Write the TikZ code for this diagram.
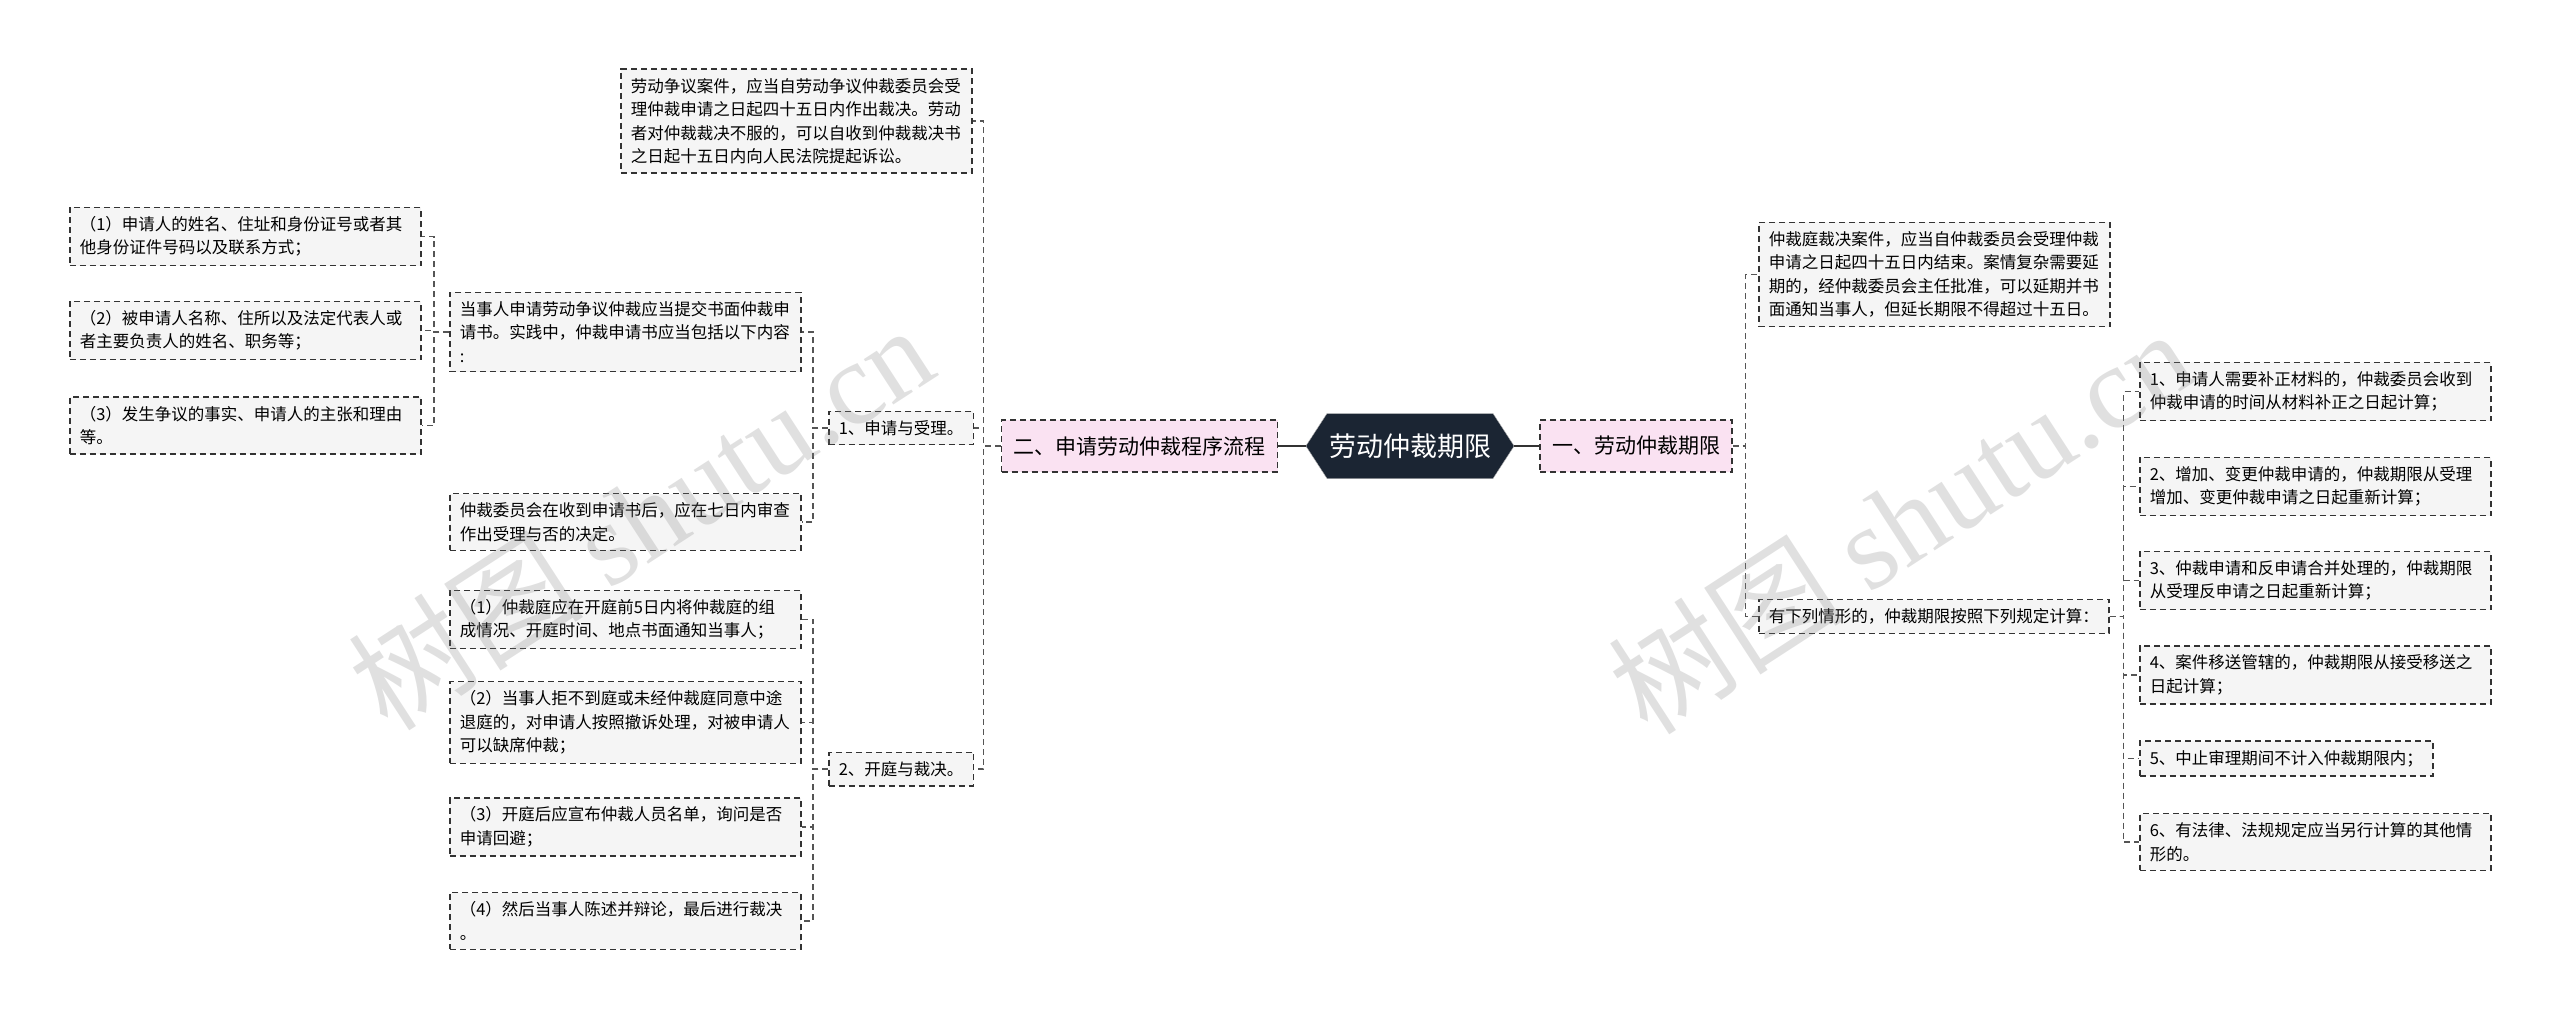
\documentclass[tikz,border=0pt]{standalone}
\usepackage{fontspec}
\setmainfont{Noto Sans CJK SC}
\newfontfamily\markfont{Liberation Serif}
\usepackage{tikz}
\usetikzlibrary{shapes.symbols}
\definecolor{boxgray}{RGB}{245,245,245}
\definecolor{edgegray}{RGB}{51,51,51}
\definecolor{linkgray}{RGB}{85,85,85}
\definecolor{topicpink}{RGB}{250,226,242}
\definecolor{rootnavy}{RGB}{27,37,51}

\begin{document}
\begin{tikzpicture}[x=1pt, y=-1pt,
  leaf/.style={draw=edgegray, fill=boxgray, line width=1.6pt,
    dash pattern=on 6pt off 4pt, font=\fontsize{16.5}{23.5}\selectfont,
    align=left, inner xsep=10pt, inner ysep=9pt, anchor=west},
  wide/.style={leaf, text width=331pt},
  topic/.style={draw=edgegray, fill=topicpink, line width=1.6pt,
    dash pattern=on 6pt off 4pt, font=\fontsize{21}{25}\selectfont,
    inner xsep=12pt, minimum height=52pt},
  root/.style={signal, signal to=east and west, signal pointer angle=114,
    fill=rootnavy, draw=gray!60, text=white, font=\fontsize{27}{30}\selectfont,
    minimum width=199pt, minimum height=65pt, inner xsep=2pt},
  link/.style={draw=linkgray, line width=1.3pt, dash pattern=on 6pt off 4pt},
  trunk/.style={draw=edgegray, line width=2.5pt},
  wmark/.style={text=gray, opacity=0.24, font=\fontsize{118}{118}\selectfont,
    rotate=33}]
  \useasboundingbox[fill=white] (0,0) rectangle (2560,1023);
  % Root and the two topics
  \node[root] (root) at (1410,446) {劳动仲裁期限};
  \node[topic] (fl2) at (1139.5,446) {二、申请劳动仲裁程序流程};
  \node[topic] (fl1) at (1636,446) {一、劳动仲裁期限};
  % Left branch
  \node[wide] (t1) at (620,121) {劳动争议案件，应当自劳动争议仲裁委员会受\\理仲裁申请之日起四十五日内作出裁决。劳动\\者对仲裁裁决不服的，可以自收到仲裁裁决书\\之日起十五日内向人民法院提起诉讼。};
  \node[leaf] (s1) at (828,428) {1、申请与受理。};
  \node[leaf] (s2) at (828,769) {2、开庭与裁决。};
  \node[wide] (a0) at (449,332) {当事人申请劳动争议仲裁应当提交书面仲裁申\\请书。实践中，仲裁申请书应当包括以下内容\\:};
  \node[wide] (a4) at (449,522) {仲裁委员会在收到申请书后，应在七日内审查\\作出受理与否的决定。};
  \node[wide] (a1) at (69,236.5) {（1）申请人的姓名、住址和身份证号或者其\\他身份证件号码以及联系方式；};
  \node[wide] (a2) at (69,330.5) {（2）被申请人名称、住所以及法定代表人或\\者主要负责人的姓名、职务等；};
  \node[wide] (a3) at (69,425.5) {（3）发生争议的事实、申请人的主张和理由\\等。};
  \node[wide] (b1) at (449,619.5) {（1）仲裁庭应在开庭前5日内将仲裁庭的组\\成情况、开庭时间、地点书面通知当事人；};
  \node[wide] (b2) at (449,722.5) {（2）当事人拒不到庭或未经仲裁庭同意中途\\退庭的，对申请人按照撤诉处理，对被申请人\\可以缺席仲裁；};
  \node[wide] (b3) at (449,827) {（3）开庭后应宣布仲裁人员名单，询问是否\\申请回避；};
  \node[wide] (b4) at (449,921) {（4）然后当事人陈述并辩论，最后进行裁决\\。};
  % Right branch
  \node[wide] (r0) at (1758,274.5) {仲裁庭裁决案件，应当自仲裁委员会受理仲裁\\申请之日起四十五日内结束。案情复杂需要延\\期的，经仲裁委员会主任批准，可以延期并书\\面通知当事人，但延长期限不得超过十五日。};
  \node[leaf] (r7) at (1758,616.5) {有下列情形的，仲裁期限按照下列规定计算：};
  \node[wide] (r1) at (2139,391.5) {1、申请人需要补正材料的，仲裁委员会收到\\仲裁申请的时间从材料补正之日起计算；};
  \node[wide] (r2) at (2139,486.5) {2、增加、变更仲裁申请的，仲裁期限从受理\\增加、变更仲裁申请之日起重新计算；};
  \node[wide] (r3) at (2139,580.5) {3、仲裁申请和反申请合并处理的，仲裁期限\\从受理反申请之日起重新计算；};
  \node[wide] (r4) at (2139,675) {4、案件移送管辖的，仲裁期限从接受移送之\\日起计算；};
  \node[leaf] (r5) at (2139,758.5) {5、中止审理期间不计入仲裁期限内；};
  \node[wide] (r6) at (2139,842) {6、有法律、法规规定应当另行计算的其他情\\形的。};
  % Connectors
  \draw[trunk] (root.west) -- (fl2.east);
  \draw[trunk] (root.east) -- (fl1.west);
  \foreach \c in {t1,s1,s2}
    \draw[link] (fl2.west) -- ++(-17,0) |- (\c.east);
  \foreach \c in {a0,a4}
    \draw[link] (s1.west) -- ++(-15,0) |- (\c.east);
  \foreach \c in {a1,a2,a3}
    \draw[link] (a0.west) -- ++(-15,0) |- (\c.east);
  \foreach \c in {b1,b2,b3,b4}
    \draw[link] (s2.west) -- ++(-15,0) |- (\c.east);
  \foreach \c in {r0,r7}
    \draw[link] (fl1.east) -- ++(13,0) |- (\c.west);
  \foreach \c in {r1,r2,r3,r4,r5,r6}
    \draw[link] (r7.east) -- ++(14,0) |- (\c.west);
  % Watermarks
  \node[wmark] (wm1) at (640,516) {树图 {\markfont shutu.cn}};
  \node[wmark] (wm2) at (1900,520) {树图 {\markfont shutu.cn}};
\end{tikzpicture}
\end{document}
